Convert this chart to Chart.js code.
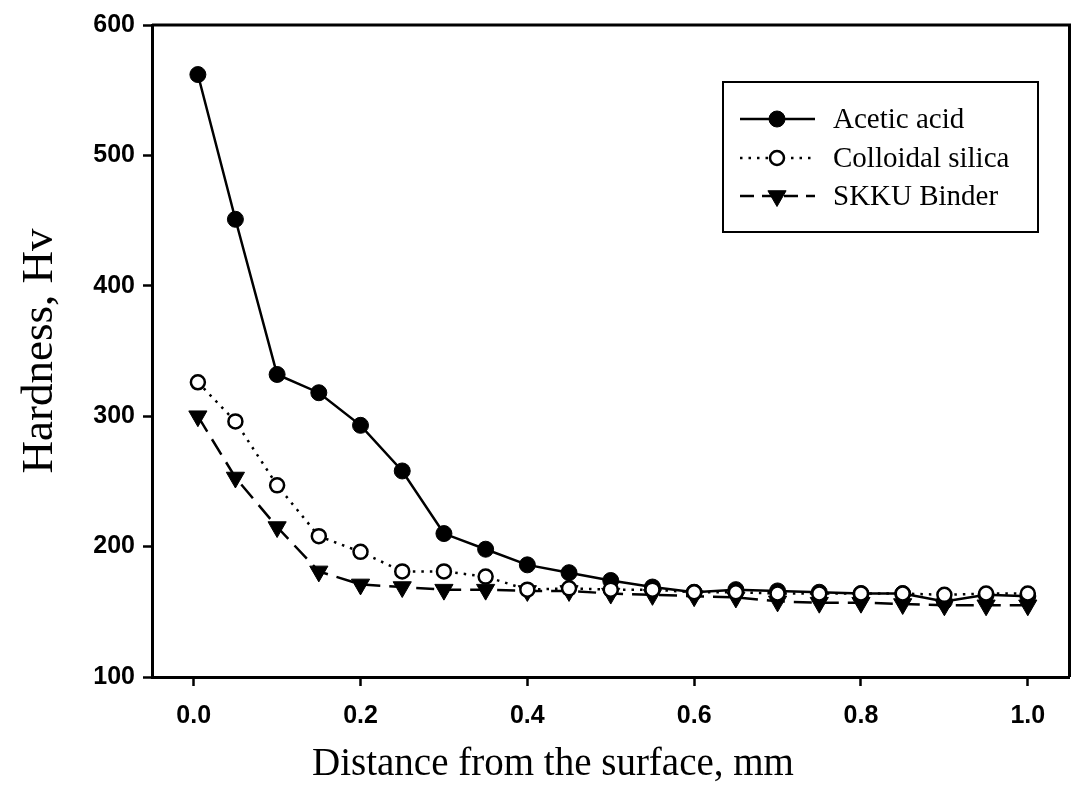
<!DOCTYPE html>
<html>
<head>
<meta charset="utf-8">
<script src="https://cdn.jsdelivr.net/npm/chart.js@4.4.1/dist/chart.umd.min.js"></script>
<style>
  html, body { margin: 0; padding: 0; background: #fff; }
  #wrap { width: 1081px; height: 802px; position: relative; }
</style>
</head>
<body>
<div id="wrap"><canvas id="hardnessChart"></canvas></div>
<script>
// distance below the surface (mm) and Vickers hardness per binder
const distance = [0.005, 0.05, 0.1, 0.15, 0.2, 0.25, 0.3, 0.35, 0.4, 0.45, 0.5,
  0.55, 0.6, 0.65, 0.7, 0.75, 0.8, 0.85, 0.9, 0.95, 1.0];
const aceticAcid = [562, 451, 332, 318, 293, 258, 210, 198, 186, 180, 174,
  169, 165, 167, 166, 165, 164, 164, 158, 163, 162];
const colloidalSilica = [326, 296, 247, 208, 196, 181, 181, 177, 167, 168, 167,
  167, 165, 165, 164, 164, 164, 164, 163, 164, 164];
const skkuBinder = [300, 253, 215, 181, 171, 169, 167, 167, 166, 166, 164,
  163, 162, 161, 158, 157, 157, 156, 155, 155, 155];

const xTickValues = [0.0, 0.2, 0.4, 0.6, 0.8, 1.0];
const yTickValues = [100, 200, 300, 400, 500, 600];
const xTitle = "Distance from the surface, mm";

const toPoints = (ys) => ys.map((y, i) => ({ x: distance[i], y }));

const series = [
  {
    label: "Acetic acid",
    data: toPoints(aceticAcid),
    borderColor: "#000",
    backgroundColor: "#000",
    borderWidth: 2.5,
    pointStyle: "circle",
    pointRadius: 8,
    pointBorderWidth: 1,
    pointBackgroundColor: "#000",
    order: 1
  },
  {
    label: "Colloidal silica",
    data: toPoints(colloidalSilica),
    borderColor: "#000",
    backgroundColor: "#fff",
    borderWidth: 2.5,
    borderDash: [2.5, 6],
    pointStyle: "circle",
    pointRadius: 7,
    pointBorderWidth: 2.5,
    pointBackgroundColor: "#fff",
    order: 0
  },
  {
    label: "SKKU Binder",
    data: toPoints(skkuBinder),
    borderColor: "#000",
    backgroundColor: "#000",
    borderWidth: 2.5,
    borderDash: [18, 9],
    pointStyle: "triangle",
    pointRotation: 180,
    pointRadius: 10.5,
    pointBorderWidth: 1,
    pointBackgroundColor: "#000",
    order: 2
  }
];

// closes the plot box on the top and right sides
const frame = {
  id: "frame",
  afterDatasetsDraw(chart) {
    const { ctx, chartArea: a } = chart;
    ctx.save();
    ctx.strokeStyle = "#000";
    ctx.lineWidth = 3;
    ctx.beginPath();
    ctx.moveTo(a.left, a.top);
    ctx.lineTo(a.right, a.top);
    ctx.lineTo(a.right, a.bottom);
    ctx.stroke();
    ctx.restore();
  }
};

// x title sits centred on the page rather than on the plot
const bottomTitle = {
  id: "bottomTitle",
  afterDraw(chart) {
    const { ctx } = chart;
    ctx.save();
    ctx.fillStyle = "#000";
    ctx.font = "39px 'Liberation Serif'";
    ctx.textAlign = "center";
    ctx.textBaseline = "middle";
    ctx.fillText(xTitle, 553, 765);
    ctx.restore();
  }
};

// boxed legend in the upper right of the plot
const boxLegend = {
  id: "boxLegend",
  afterDraw(chart) {
    const { ctx } = chart;
    const box = { x: 723, y: 82, w: 315, h: 150 };
    const rowY = [119, 158, 196];
    ctx.save();
    ctx.fillStyle = "#fff";
    ctx.fillRect(box.x, box.y, box.w, box.h);
    ctx.strokeStyle = "#000";
    ctx.lineWidth = 2;
    ctx.strokeRect(box.x, box.y, box.w, box.h);

    series.forEach((ds, i) => {
      const y = rowY[i];
      ctx.strokeStyle = "#000";
      ctx.lineWidth = 2.5;
      ctx.setLineDash(ds.borderDash ? (i === 2 ? [14, 8] : ds.borderDash) : []);
      ctx.beginPath();
      ctx.moveTo(740, y);
      ctx.lineTo(815, y);
      ctx.stroke();
      ctx.setLineDash([]);

      ctx.fillStyle = ds.pointBackgroundColor;
      ctx.strokeStyle = "#000";
      ctx.lineWidth = ds.pointBorderWidth;
      Chart.helpers.drawPoint(ctx, {
        pointStyle: ds.pointStyle,
        rotation: ds.pointRotation || 0,
        radius: ds.pointRadius,
        borderWidth: ds.pointBorderWidth
      }, 777, y);

      ctx.fillStyle = "#000";
      ctx.font = "29px 'Liberation Serif'";
      ctx.textAlign = "left";
      ctx.textBaseline = "middle";
      ctx.fillText(ds.label, 833, y + 1);
    });
    ctx.restore();
  }
};

const tickFont = { family: "'Liberation Sans'", size: 25, weight: "bold" };

new Chart(document.getElementById("hardnessChart"), {
  type: "line",
  data: { datasets: series },
  options: {
    responsive: true,
    maintainAspectRatio: false,
    animation: false,
    devicePixelRatio: 1,
    layout: { padding: { top: 25, right: 9, left: 0, bottom: 0 } },
    plugins: {
      legend: { display: false },
      tooltip: { enabled: false }
    },
    scales: {
      x: {
        type: "linear",
        min: -0.05,
        max: 1.05,
        afterFit: (axis) => { axis.height = 125; },
        afterBuildTicks: (axis) => { axis.ticks = xTickValues.map((value) => ({ value })); },
        ticks: {
          color: "#000",
          font: tickFont,
          padding: 15,
          maxRotation: 0,
          callback: (v) => v.toFixed(1)
        },
        grid: {
          drawOnChartArea: false,
          drawTicks: true,
          tickLength: 9,
          tickWidth: 2.5,
          tickColor: "#000"
        },
        border: { display: true, color: "#000", width: 3 },
        title: { display: false }
      },
      y: {
        min: 100,
        max: 600,
        afterFit: (axis) => { axis.width = 152; },
        afterBuildTicks: (axis) => { axis.ticks = yTickValues.map((value) => ({ value })); },
        ticks: {
          color: "#000",
          font: tickFont,
          padding: 8
        },
        grid: {
          drawOnChartArea: false,
          drawTicks: true,
          tickLength: 9,
          tickWidth: 2.5,
          tickColor: "#000"
        },
        border: { display: true, color: "#000", width: 3 },
        title: {
          display: true,
          text: "Hardness, Hv",
          color: "#000",
          font: { family: "'Liberation Serif'", size: 45, lineHeight: 1 },
          padding: { top: 18, bottom: 0 }
        }
      }
    }
  },
  plugins: [frame, bottomTitle, boxLegend]
});
</script>
</body>
</html>
